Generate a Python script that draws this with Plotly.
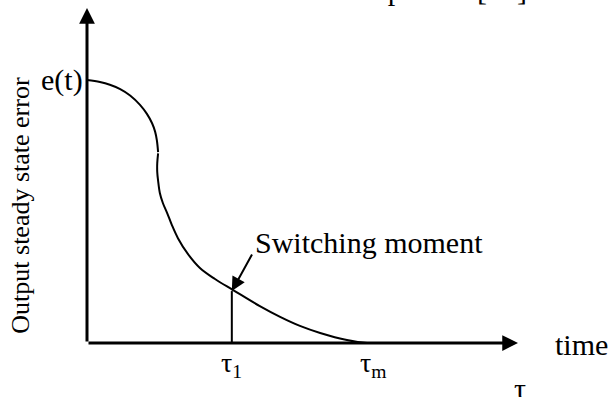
import plotly.graph_objects as go

# ---- data (abstract units: time 0..10, error 0..10) ----
arc_time = [0.00, 0.30, 0.53, 0.77, 1.00, 1.23, 1.39, 1.51, 1.58, 1.62, 1.65]
arc_error = [7.85, 7.79, 7.71, 7.58, 7.39, 7.11, 6.84, 6.56, 6.31, 6.06, 5.70]

tail_time = [1.65, 1.63, 1.63, 1.65, 1.69, 1.76, 1.86, 1.97, 2.11, 2.34, 2.62,
             2.97, 3.39, 4.01, 4.48, 4.94, 5.41, 6.03, 6.50, 6.91]
tail_error = [5.66, 5.37, 5.10, 4.84, 4.48, 4.18, 3.88, 3.52, 3.13, 2.66, 2.24,
              1.91, 1.58, 1.10, 0.78, 0.51, 0.30, 0.09, 0.00, 0.00]

tau1 = 3.36
tau_m = 6.64
error_at_tau1 = 1.55
e0 = 7.85

tick_positions = [tau1, tau_m]
tick_labels = ["τ<sub>1</sub>", "τ<sub>m</sub>"]

x_max = 10
y_max = 10

FONT = "Liberation Serif"
BLACK = "#000000"

fig = go.Figure()

fig.add_trace(go.Scatter(x=arc_time, y=arc_error, mode="lines",
                         line=dict(color=BLACK, width=2, shape="spline"),
                         cliponaxis=False, showlegend=False, hoverinfo="skip"))
fig.add_trace(go.Scatter(x=tail_time, y=tail_error, mode="lines",
                         line=dict(color=BLACK, width=2, shape="spline"),
                         cliponaxis=False, showlegend=False, hoverinfo="skip"))
# vertical line at switching moment
fig.add_trace(go.Scatter(x=[tau1, tau1], y=[0, error_at_tau1], mode="lines",
                         line=dict(color=BLACK, width=2),
                         cliponaxis=False, showlegend=False, hoverinfo="skip"))

annotations = []
# axes with arrowheads
annotations.append(dict(x=0, y=y_max, ax=0, ay=0, xref="x", yref="y",
                        axref="x", ayref="y", text="", showarrow=True,
                        arrowhead=2, arrowsize=1.05, arrowwidth=3, arrowcolor=BLACK))
annotations.append(dict(x=x_max, y=0, ax=0, ay=0, xref="x", yref="y",
                        axref="x", ayref="y", text="", showarrow=True,
                        arrowhead=2, arrowsize=1.05, arrowwidth=3, arrowcolor=BLACK))
# switching moment arrow
annotations.append(dict(x=tau1, y=error_at_tau1, ax=21, ay=-38, xref="x", yref="y",
                        text="", showarrow=True, arrowhead=2, arrowsize=1.4,
                        arrowwidth=2, arrowcolor=BLACK))
annotations.append(dict(x=3.85, y=2.99, xref="x", yref="y", text="Switching moment",
                        showarrow=False, xanchor="left", yanchor="middle",
                        font=dict(family=FONT, size=30, color=BLACK)))
# e(t)
annotations.append(dict(x=0, y=e0, xref="x", yref="y", text="e(t)", showarrow=False,
                        xanchor="right", yanchor="middle", xshift=-2,
                        font=dict(family=FONT, size=30, color=BLACK)))
# tick labels
for pos, lab in zip(tick_positions, tick_labels):
    annotations.append(dict(x=pos, y=0, xref="x", yref="y", text=lab, showarrow=False,
                            xanchor="center", yanchor="middle", yshift=-21,
                            font=dict(family=FONT, size=28, color=BLACK)))
# time label (placed in paper coords since it sits beyond the axis end)
annotations.append(dict(x=1.081, y=0.5, xref="paper", yref="paper", text="time",
                        showarrow=False, xanchor="left", yanchor="middle",
                        yshift=-167.5 - 1,
                        font=dict(family=FONT, size=30, color=BLACK)))
annotations.append(dict(x=1.0, y=0.5, xref="paper", yref="paper", text="τ",
                        showarrow=False, xanchor="center", yanchor="middle",
                        yshift=-167.5 - 45, xshift=2,
                        font=dict(family=FONT, size=30, color=BLACK)))
# y-axis title
annotations.append(dict(x=-0.153, y=0.41, xref="paper", yref="paper",
                        text="Output steady state error", textangle=-90, showarrow=False,
                        xanchor="center", yanchor="middle",
                        font=dict(family=FONT, size=26, color=BLACK)))
# clipped caption text at the top
annotations.append(dict(x=1.025, y=1, xref="paper", yref="paper",
                        text="the component [13]", showarrow=False,
                        xanchor="right", yanchor="middle", yshift=19,
                        font=dict(family=FONT, size=30, color=BLACK)))

fig.update_layout(
    width=610, height=397,
    margin=dict(l=87, r=92, t=8, b=54, pad=0),
    paper_bgcolor="white", plot_bgcolor="white",
    xaxis=dict(range=[0, x_max], visible=False, fixedrange=True),
    yaxis=dict(range=[0, y_max], visible=False, fixedrange=True),
    annotations=annotations,
    showlegend=False,
)

fig.write_html("out.html", config={"displayModeBar": False},
               post_script="document.body.style.margin='0';")
